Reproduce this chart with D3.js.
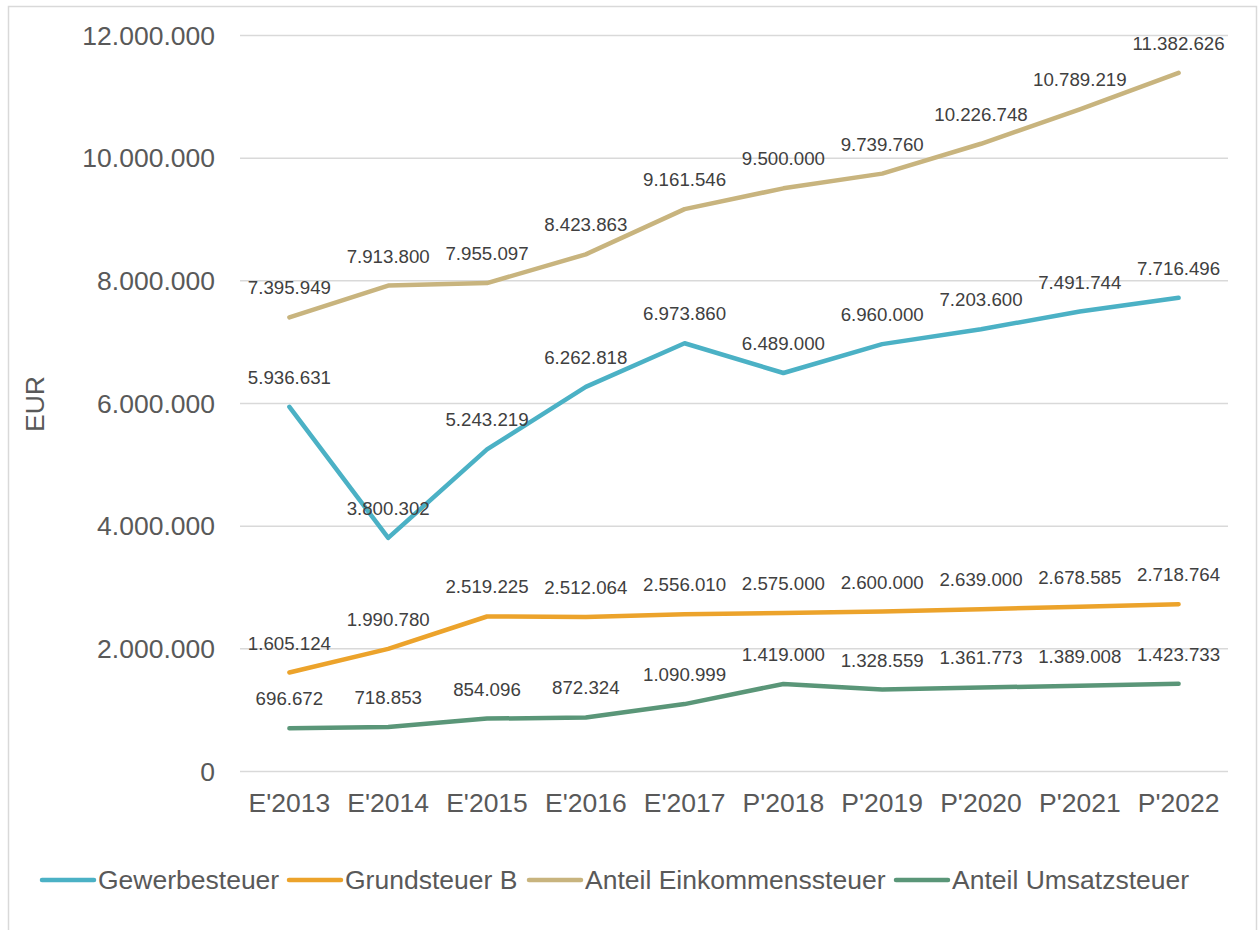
<!DOCTYPE html>
<html><head><meta charset="utf-8">
<script src="https://cdn.jsdelivr.net/npm/d3@7"></script>
<style>body{margin:0;background:#fff;font-family:Arial,"Liberation Sans",sans-serif}</style>
</head><body>
<svg id="c" width="1260" height="930"></svg>
<script>
const categories = ["E'2013","E'2014","E'2015","E'2016","E'2017","P'2018","P'2019","P'2020","P'2021","P'2022"];
const gewerbesteuer = [5936631,3800302,5243219,6262818,6973860,6489000,6960000,7203600,7491744,7716496];
const grundsteuerB = [1605124,1990780,2519225,2512064,2556010,2575000,2600000,2639000,2678585,2718764];
const einkommenssteuer = [7395949,7913800,7955097,8423863,9161546,9500000,9739760,10226748,10789219,11382626];
const umsatzsteuer = [696672,718853,854096,872324,1090999,1419000,1328559,1361773,1389008,1423733];
const seriesNames = ["Gewerbesteuer","Grundsteuer B","Anteil Einkommenssteuer","Anteil Umsatzsteuer"];
const seriesColors = ["#4bb1c5","#eca32b","#c8b47e","#5a9678"];
const yTicks = [0,2000000,4000000,6000000,8000000,10000000,12000000];
const seriesValues = [gewerbesteuer, grundsteuerB, einkommenssteuer, umsatzsteuer];

const FF = "Arial,'Liberation Sans',sans-serif";
const svg = d3.select("#c");
const fmt = d3.formatLocale({decimal:",",thousands:".",grouping:[3],currency:["","€"]}).format(",d");

svg.append("rect").attr("x",8.5).attr("y",6.5).attr("width",1248).attr("height",940)
  .attr("fill","#fff").attr("stroke","#d9d9d9").attr("stroke-width",1.5);

const x = d3.scaleBand().domain(categories).range([240,1228]);
const y = d3.scaleLinear().domain([0,12000000]).range([771,35]);

const g = svg.append("g");
const ya = g.append("g").attr("transform","translate(240,0)")
  .call(d3.axisLeft(y).tickValues(yTicks).tickFormat(fmt).tickSize(-988).tickPadding(25));
ya.select(".domain").remove();
ya.selectAll(".tick line").attr("stroke","#d9d9d9").attr("stroke-width",1.5);
ya.selectAll(".tick text").attr("fill","#595959").attr("font-size","26.5px").attr("font-family",FF).attr("dy","0.35em");

const xa = g.append("g").attr("transform","translate(0,771)")
  .call(d3.axisBottom(x).tickSize(0).tickPadding(0));
xa.select(".domain").remove();
xa.selectAll(".tick text").attr("fill","#595959").attr("font-size","26.5px").attr("font-family",FF)
  .attr("dy",null).attr("y",41);

svg.append("text").attr("transform","translate(44,404) rotate(-90)").attr("text-anchor","middle")
  .attr("fill","#595959").attr("font-size","26.5px").attr("font-family",FF).text("EUR");

const line = d3.line().x((d,i)=>x(categories[i])+x.bandwidth()/2).y(d=>y(d));
seriesValues.forEach((vals,si)=>{
  svg.append("path").datum(vals).attr("d",line).attr("fill","none")
    .attr("stroke",seriesColors[si]).attr("stroke-width",4.5).attr("stroke-linejoin","round").attr("stroke-linecap","round");
});
seriesValues.forEach((vals,si)=>{
  svg.append("g").selectAll("text").data(vals).join("text")
    .attr("x",(d,i)=>x(categories[i])+x.bandwidth()/2)
    .attr("y",d=>y(d)-23)
    .attr("text-anchor","middle").attr("fill","#404040").attr("font-size","18.7px").attr("font-family",FF)
    .text(d=>fmt(d));
});

// legend
const legendX = [40,287,527,894];
const lg = svg.append("g");
seriesNames.forEach((n,i)=>{
  lg.append("line").attr("x1",legendX[i]+2).attr("x2",legendX[i]+54).attr("y1",880).attr("y2",880)
    .attr("stroke",seriesColors[i]).attr("stroke-width",4.5).attr("stroke-linecap","round");
  lg.append("text").attr("x",legendX[i]+58).attr("y",889).attr("fill","#595959").attr("font-size","26.5px").attr("font-family",FF).text(n);
});
</script>
</body></html>
